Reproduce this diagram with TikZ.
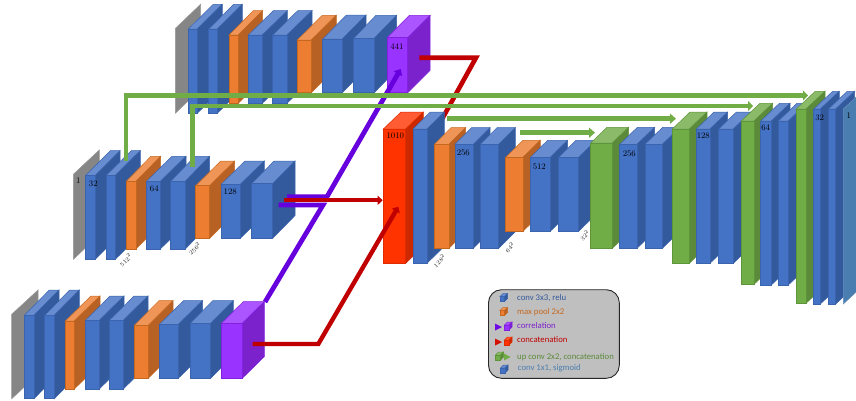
\documentclass[tikz,border=0pt]{standalone}
\usepackage{fontspec}
\usetikzlibrary{arrows.meta}
\newfontfamily\legendfont{Carlito}
\definecolor{blueF}{HTML}{4472C4}\definecolor{blueS}{HTML}{335A9C}\definecolor{blueT}{HTML}{678CCF}\definecolor{blueL}{HTML}{3A64AE}
\definecolor{orangeF}{HTML}{ED7D31}\definecolor{orangeS}{HTML}{B86125}\definecolor{orangeT}{HTML}{F09558}\definecolor{orangeL}{HTML}{C5681F}
\definecolor{greenF}{HTML}{70AD47}\definecolor{greenS}{HTML}{5B8A3A}\definecolor{greenT}{HTML}{8BBB69}\definecolor{greenL}{HTML}{5F953A}
\definecolor{purpleF}{HTML}{9933FF}\definecolor{purpleS}{HTML}{7B22CC}\definecolor{purpleT}{HTML}{AA55FF}\definecolor{purpleL}{HTML}{8420E0}
\definecolor{redF}{HTML}{FF3300}\definecolor{redS}{HTML}{CC2900}\definecolor{redT}{HTML}{FF5C33}\definecolor{redL}{HTML}{E02A00}
\definecolor{tealF}{HTML}{4A7EB0}\definecolor{grayF}{HTML}{868686}
\definecolor{linkG}{HTML}{70AD47}\definecolor{linkR}{HTML}{C00000}\definecolor{linkP}{HTML}{6600DD}
\tikzset{
  x=1pt,y=-1pt,
  frontface/.style={inner sep=0pt,outer sep=0pt,anchor=north west,line width=.6pt},
  linkgreen/.style={draw=linkG,line width=4.6pt,-{Triangle[length=6pt,width=10pt]}},
  linkgreenbar/.style={draw=linkG,line width=4.8pt,line join=miter,-{Triangle[length=5pt,width=10pt]}},
  linkred/.style={draw=linkR,line width=4.6pt,line join=miter},
  linkpurple/.style={draw=linkP,line width=4.8pt,line join=miter},
  redhead/.style={-{Triangle[length=5pt,width=9pt]}},
  lab/.style={font=\fontsize{8.5}{9}\selectfont,inner sep=0pt,text=black},
  dimlab/.style={font=\fontsize{6.5}{7}\selectfont,inner sep=0pt,rotate=45,text=black!85},
  legtext/.style={font=\legendfont\fontsize{8.7}{10}\selectfont,anchor=west,inner sep=0pt}
}
% palette, name, x1, x2, ytop, ybot, dx, dy
\newcommand{\cube}[8]{%
  \pgfmathsetmacro{\cw}{#4-#3}\pgfmathsetmacro{\ch}{#6-#5}%
  \draw[line width=.5pt,draw=#1L,fill=#1T] (#3,#5) -- ({#3+#7},{#5-#8}) -- ({#4+#7},{#5-#8}) -- (#4,#5) -- cycle;
  \draw[line width=.5pt,draw=#1L,fill=#1S] (#4,#5) -- ({#4+#7},{#5-#8}) -- ({#4+#7},{#6-#8}) -- (#4,#6) -- cycle;
  \node[frontface,draw=#1L,fill=#1F,minimum width=\cw pt,minimum height=\ch pt] (#2) at (#3,#5) {};
}
% colour, x, ytop, ybot, dx, dy
\newcommand{\slab}[6]{%
  \draw[line width=.5pt,draw=#1!85!white,fill=#1] (#2,#3) -- ({#2+#5},{#3-#6}) -- ({#2+#5},{#4-#6}) -- (#2,#4) -- cycle;
}
\begin{document}
\begin{tikzpicture}
\useasboundingbox (0,0) rectangle (856,400);
\coordinate (rtA) at (419.3,57.7);
\coordinate (rtB) at (476,57.7);
\coordinate (rtC) at (436,130);
% top row
\slab{grayF}{175.3}{28.5}{113.3}{25.2}{24.2}
\cube{blue}{t1}{188.3}{197.3}{29}{113.3}{25}{24.7}
\cube{blue}{t2}{208.7}{217.3}{29}{113.3}{25}{24.7}
\cube{orange}{t3}{229}{238.3}{35}{103.3}{24.3}{24.3}
\cube{blue}{t4}{248.3}{262.3}{35}{103.3}{25}{24.3}
\cube{blue}{t5}{272.7}{287}{35}{103.3}{25}{24.3}
\cube{orange}{t6}{297.3}{311.3}{40}{92.7}{25}{24.7}
\cube{blue}{t7}{322.7}{342.3}{39}{92.7}{23.7}{24}
\cube{blue}{t8}{353.7}{374.3}{38.3}{92.7}{22.3}{23}
\cube{purple}{t9}{387}{407.7}{37.7}{92.7}{22.3}{22.3}
% middle row
\slab{grayF}{73.3}{174.3}{259.3}{26}{24.3}
\cube{blue}{m1}{85.7}{95.3}{175.3}{259.3}{24.7}{24.7}
\cube{blue}{m2}{106.3}{115.3}{175.3}{259.3}{25}{24.7}
\cube{orange}{m3}{126.3}{136}{181.3}{249}{24.7}{25}
\cube{blue}{m4}{146.3}{160.3}{181.3}{249}{25.7}{25}
\cube{blue}{m5}{170.7}{185.3}{181.3}{249}{24.3}{25}
\cube{orange}{m6}{195.7}{209.7}{185.7}{238.3}{25}{24.7}
\cube{blue}{m7}{221}{240.3}{184.3}{238.3}{24}{23.3}
\cube{blue}{m8}{251.7}{272.7}{183.7}{238.3}{22.3}{22.7}
% bottom row
\slab{grayF}{11.7}{314.3}{398.7}{26.3}{24.3}
\cube{blue}{b1}{24.3}{34}{315.3}{398.7}{25}{25.3}
\cube{blue}{b2}{44.7}{54.3}{315.3}{398.7}{25}{25.3}
\cube{orange}{b3}{65.3}{74.3}{321}{389}{25.7}{25}
\cube{blue}{b4}{85.3}{99.3}{320.3}{389}{24.7}{24.3}
\cube{blue}{b5}{109.3}{123.3}{320.3}{389}{24.7}{24.3}
\cube{orange}{b6}{134.3}{148.3}{325.3}{378.3}{24.7}{24.7}
\cube{blue}{b7}{159.3}{178.3}{324.3}{378.3}{24.3}{23.7}
\cube{blue}{b8}{190.3}{210.7}{323.3}{378.3}{22.6}{22.7}
% purple link
\coordinate (pA) at (265,302);
\coordinate (pB) at (323,205);
\coordinate (pC) at (278.7,205);
\coordinate (pD) at (287,196.7);
\coordinate (pE) at (327,196.7);
\coordinate (pF) at (400.7,69);
\draw[linkpurple] (pA) -- (pB) -- (pC);
\cube{purple}{b9}{221.3}{242.3}{323.3}{378.3}{22}{21.7}
\draw[linkpurple,-{Triangle[length=5.5pt,width=9.5pt]}] (pD) -- (pE) -- (pF);
% red links
\draw[linkred] (rtA) -- (rtB) -- (rtC);
\coordinate (rmA) at (283.7,200.3);
\coordinate (rmB) at (382.7,200.3);
\draw[linkred,line width=3.8pt,redhead] (rmA) -- (rmB);
% centre stack
\cube{red}{c1}{383.3}{405.7}{129}{263.3}{17.7}{17}
\cube{blue}{c2}{413}{427}{129}{263.3}{17.3}{17}
\cube{orange}{c3}{434.3}{449}{144.3}{248.3}{16.7}{16.7}
\cube{blue}{c4}{455}{473.3}{144.3}{248.3}{16.7}{16.7}
\cube{blue}{c5}{480.3}{498.7}{144.3}{248.3}{16.7}{16.7}
\cube{orange}{c6}{505.7}{523}{157.3}{231.3}{17.3}{17}
\cube{blue}{c7}{530.3}{550.3}{157.3}{231.3}{17.3}{17}
\cube{blue}{c8}{558.7}{578.7}{157.3}{231.3}{17.3}{17}
\cube{green}{c9}{590.7}{612.3}{143}{248.3}{16.3}{15.7}
\cube{blue}{c10}{619.7}{637}{144.3}{248.3}{17.7}{17}
\cube{blue}{c11}{645}{662.3}{144.3}{248.3}{17.7}{17}
\cube{green}{c12}{672.3}{689.3}{129}{263.3}{17.7}{17}
\cube{blue}{c13}{696.3}{710}{129}{263.3}{17.7}{17}
\cube{blue}{c14}{718.7}{733.3}{129}{263.3}{17.7}{17}
\cube{green}{c15}{741.3}{754}{121}{284.3}{18.7}{17.7}
\cube{blue}{c16}{760.7}{771.3}{121}{285}{18.7}{17.7}
\cube{blue}{c17}{778.3}{788.3}{121}{285}{18.7}{17.7}
\cube{green}{c18}{796.3}{806}{109}{303.3}{19}{17.7}
\cube{blue}{c19}{813.7}{820.3}{109}{304}{19}{17.7}
\cube{blue}{c20}{828.3}{835.7}{109}{304}{19}{17.7}
\slab{tealF}{843.3}{109}{304}{19}{17.7}
% red link to the first centre box
\coordinate (rbA) at (252.7,344);
\coordinate (rbB) at (318.3,344);
\coordinate (rbC) at (398.3,206.7);
\draw[linkred,line width=4.4pt,redhead] (rbA) -- (rbB) -- (rbC);
% green links
\coordinate (g1A) at (126,160.7);
\coordinate (g1B) at (126,95.5);
\coordinate (g1C) at (808,95.5);
\coordinate (g2A) at (192.7,167.3);
\coordinate (g2B) at (192.7,106);
\coordinate (g2C) at (753,106);
\coordinate (g3A) at (447,118.7);
\coordinate (g3B) at (676,118.7);
\coordinate (g4A) at (520.3,132.7);
\coordinate (g4B) at (595,132.7);
\draw[linkgreenbar] (g1A) -- (g1B) -- (g1C);
\draw[linkgreenbar] (g2A) -- (g2B) -- (g2C);
\draw[linkgreen] (g3A) -- (g3B);
\draw[linkgreen] (g4A) -- (g4B);
% labels
\node[lab] (l441) at (397,46.7) {441};
\node[lab] (l1a) at (78.3,181) {1};
\node[lab] (l32a) at (93.3,183.3) {32};
\node[lab] (l64a) at (154.3,188.3) {64};
\node[lab] (l128a) at (230.3,191.3) {128};
\node[lab] (l1010) at (395.3,136) {1010};
\node[lab] (l256a) at (463.3,152.7) {256};
\node[lab] (l512) at (539.3,166.3) {512};
\node[lab] (l256b) at (629.3,153.3) {256};
\node[lab] (l128b) at (703.3,135.7) {128};
\node[lab] (l64b) at (765.7,128) {64};
\node[lab] (l32b) at (819.7,117.7) {32};
\node[lab] (l1b) at (848.7,116) {1};
\node[dimlab] (d512) at (125.7,260) {$512^2$};
\node[dimlab] (d256) at (194.7,248.3) {$256^2$};
\node[dimlab] (d128) at (439.3,260.7) {$128^2$};
\node[dimlab] (d64) at (509.7,247) {$64^2$};
\node[dimlab] (d32) at (584.7,235) {$32^2$};
% legend
\draw[fill=black!25,draw=black!85,line width=.9pt,rounded corners=13pt] (488.5,289.7) rectangle (619.3,378.3);
\cube{blue}{k1}{500}{504.5}{296.5}{301.5}{3}{3}
\cube{orange}{k2}{500}{504.5}{310.5}{315.5}{3}{3}
\fill[linkP!80!purpleF] (495,323.5) -- (502,327) -- (495,330.5) -- cycle;
\cube{purple}{k3}{504.5}{509}{325}{330}{3}{3}
\fill[redF!30!linkR] (495,338.5) -- (502,342) -- (495,345.5) -- cycle;
\cube{red}{k4}{504.5}{509}{340}{345}{3}{3}
\cube{green}{k5}{495.5}{500.5}{355}{360}{3}{3}
\fill[linkG] (504,353.5) -- (510.5,357) -- (504,360.5) -- cycle;
\cube{blue}{k6}{500.5}{505}{368}{373}{3}{3}
\node[legtext,text=blueS] (t1) at (517,297.7) {conv 3x3, relu};
\node[legtext,text=orangeL] (t2) at (517,311.7) {max pool 2x2};
\node[legtext,text=purpleS] (t3) at (517,326) {correlation};
\node[legtext,text=linkR] (t4) at (517,340) {concatenation};
\node[legtext,text=greenS] (t5) at (517,356.7) {up conv 2x2, concatenation};
\node[legtext,text=tealF] (t6) at (517.7,368.5) {conv 1x1, sigmoid};
\end{tikzpicture}
\end{document}
